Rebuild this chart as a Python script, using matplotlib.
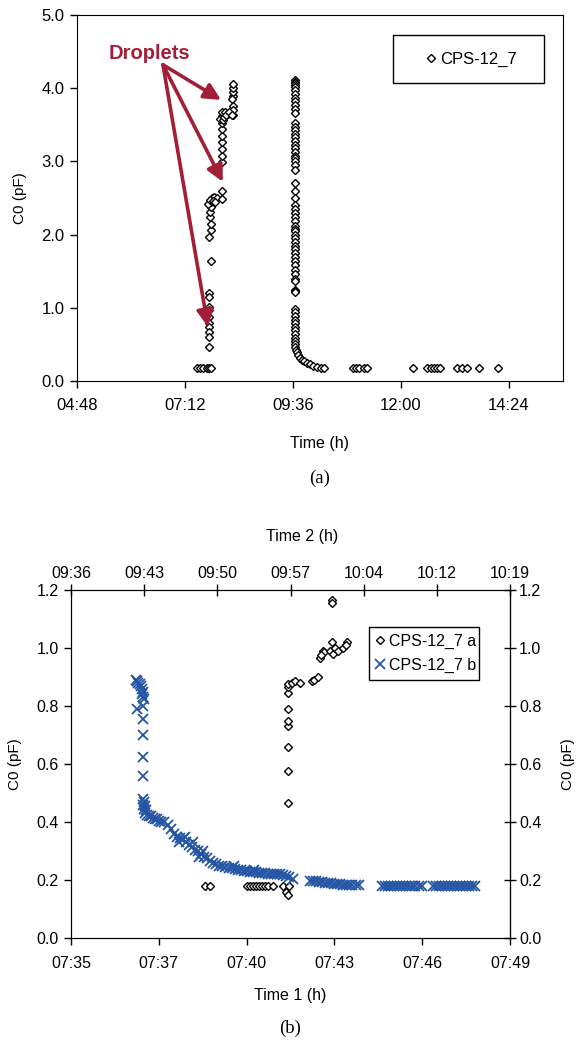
import numpy as np
import matplotlib
matplotlib.use("Agg")
import matplotlib.pyplot as plt
from matplotlib.patches import Rectangle
from matplotlib.ticker import FixedLocator, FuncFormatter

plt.rcParams['font.family'] = ['Liberation Sans', 'DejaVu Sans']
plt.rcParams['font.size'] = 11

# ---------------- data (time in minutes after midnight, C0 in pF) ----------------
# panel (a): first droplet events
drop_t = [448, 452, 456, 461, 464, 467,
          464, 464, 464, 464, 464, 464, 464, 464, 464, 464, 467,
          464, 466, 466, 465, 465, 466, 467, 468, 470, 474, 481, 481, 463, 465, 469, 472,
          481, 481, 481, 481, 481, 481, 481, 481, 481, 485, 489, 496, 496, 496, 496, 496,
          494, 496, 496, 479, 482, 484, 487, 491, 494]
drop_c = [0.18, 0.18, 0.18, 0.18, 0.18, 0.18,
          1.20, 1.15, 1.01, 0.97, 0.87, 0.79, 0.74, 0.67, 0.60, 0.46, 1.64,
          1.97, 2.06, 2.15, 2.24, 2.31, 2.38, 2.45, 2.50, 2.52, 2.50, 2.48, 2.60, 2.42, 2.47, 2.46, 2.44,
          2.99, 3.08, 3.17, 3.26, 3.35, 3.44, 3.53, 3.62, 3.67, 3.67, 3.65, 3.63, 3.90, 3.95, 4.00, 4.06,
          3.85, 3.76, 3.70, 3.58, 3.56, 3.60, 3.63, 3.68, 3.64]

# panel (a): second event (full wetting then decay)
wet_c = [4.11, 4.09, 4.07, 4.05, 4.02, 3.97, 3.92, 3.87, 3.82, 3.77, 3.72, 3.66,
         3.52, 3.47, 3.43, 3.38, 3.33, 3.28, 3.23, 3.18, 3.13, 3.08, 3.05, 3.00, 2.95, 2.88,
         2.70, 2.60, 2.50,
         2.40, 2.35, 2.30, 2.24, 2.18, 2.12, 2.08, 2.05, 2.00, 1.95, 1.90, 1.85, 1.80, 1.75,
         1.70, 1.64, 1.58, 1.52, 1.46, 1.40, 1.36, 1.25, 1.23, 1.21,
         0.99, 0.94, 0.89, 0.84, 0.79, 0.74, 0.69, 0.64, 0.59, 0.54, 0.50, 0.46]
wet_t = [579] * len(wet_c)
decay_t = [580, 581, 583, 585, 588, 591, 595, 599, 603, 608, 613, 617]
decay_c = [0.42, 0.39, 0.35, 0.32, 0.29, 0.27, 0.25, 0.23, 0.21, 0.19, 0.18, 0.18]
late_t = [656, 660, 664, 670, 675, 736, 755, 760, 764, 768, 772, 795, 801, 808, 824, 849]
late_c = [0.18] * len(late_t)

# panel (b): series a, against Time 1
a_t = [459.45, 459.6, 460.8, 460.9, 461.0, 461.1, 461.2, 461.3, 461.4, 461.5, 461.65,
       462.0, 462.1, 462.15, 462.2,
       462.16, 462.16, 462.16, 462.16, 462.16, 462.16, 462.16, 462.16, 462.16,
       462.3, 462.4, 462.55, 462.95, 463.0, 463.15, 463.2, 463.3, 463.35, 463.25,
       463.6, 463.6, 463.6, 463.55, 463.65, 463.7, 463.8, 463.96, 464.1, 464.05]
a_c = [0.18, 0.18, 0.18, 0.18, 0.18, 0.18, 0.18, 0.18, 0.18, 0.18, 0.18,
       0.18, 0.16, 0.15, 0.18,
       0.466, 0.576, 0.66, 0.73, 0.75, 0.79, 0.845, 0.866, 0.875,
       0.88, 0.885, 0.88, 0.885, 0.89, 0.90, 0.965, 0.99, 0.985, 0.975,
       1.02, 1.165, 1.155, 0.99, 0.98, 1.00, 0.99, 1.00, 1.02, 1.01]

# panel (b): series b, against Time 2
b_t = [582.4, 582.5, 582.6, 582.8, 582.9, 583.0, 583.1, 583.0, 583.1, 583.2,
       582.5, 583.1, 583.1, 583.1, 583.1, 583.1,
       583.1, 583.2, 583.1, 583.3, 583.2, 583.4, 583.3, 583.5, 583.7, 583.9, 584.1, 584.3, 584.5, 584.7,
       584.9, 585.2, 585.5, 585.8, 586.1, 586.4, 586.7, 587.0, 587.3, 587.6, 587.9, 588.2,
       588.5, 588.8, 589.1, 589.4, 589.7, 590.0, 590.3, 590.6, 590.9, 591.2, 591.5, 591.8,
       592.1, 592.4, 592.7, 593.0, 593.3, 593.6, 593.9, 594.2, 594.5, 594.8, 595.1, 595.4,
       595.7, 596.0, 596.3, 596.6, 596.9, 597.2, 597.5, 597.8,
       586.6, 587.2, 588.0, 588.6, 589.0, 592.0, 594.0,
       599.5, 599.8, 600.1, 600.4, 600.7, 601.0, 601.3, 601.6, 601.9, 602.2, 602.5, 602.8,
       603.1, 603.4, 603.7, 604.0, 604.3,
       606.6, 606.9, 607.2, 607.5, 607.8, 608.1, 608.4, 608.7, 609.0, 609.3, 609.6, 609.9,
       610.2, 610.5,
       611.6, 611.9, 612.2, 612.5, 612.8, 613.1, 613.4, 613.7, 614.0, 614.3, 614.6, 614.9,
       615.2, 615.5, 615.8]
b_c = [0.89, 0.885, 0.88, 0.875, 0.87, 0.86, 0.85, 0.84, 0.83, 0.825,
       0.79, 0.80, 0.755, 0.70, 0.625, 0.56,
       0.48, 0.47, 0.46, 0.455, 0.445, 0.44, 0.43, 0.425, 0.42, 0.42, 0.415, 0.41, 0.41, 0.405,
       0.40, 0.40, 0.39, 0.375, 0.36, 0.35, 0.345, 0.34, 0.33, 0.32, 0.315, 0.305,
       0.30, 0.29, 0.28, 0.275, 0.265, 0.26, 0.255, 0.25, 0.248, 0.245, 0.242, 0.24,
       0.238, 0.236, 0.234, 0.232, 0.23, 0.228, 0.227, 0.226, 0.225, 0.224, 0.223, 0.222,
       0.222, 0.221, 0.22, 0.219, 0.217, 0.215, 0.21, 0.205,
       0.33, 0.35, 0.33, 0.28, 0.30, 0.25, 0.235,
       0.198, 0.197, 0.196, 0.194, 0.193, 0.191, 0.19, 0.188, 0.187, 0.186, 0.185, 0.184,
       0.183, 0.183, 0.182, 0.182, 0.182,
       0.18, 0.18, 0.18, 0.18, 0.18, 0.18, 0.18, 0.18, 0.18, 0.18, 0.18, 0.18,
       0.18, 0.18,
       0.18, 0.18, 0.18, 0.18, 0.18, 0.18, 0.18, 0.18, 0.18, 0.18, 0.18, 0.18,
       0.18, 0.18, 0.18]

# axis ticks as fractions of a day (Excel style)
top_ticks_day = [0.2, 0.3, 0.4, 0.5, 0.6]
t1_ticks_day = [0.316, 0.318, 0.320, 0.322, 0.324, 0.326]
t2_ticks_day = [0.400, 0.405, 0.410, 0.415, 0.420, 0.425, 0.430]

blue = '#2455A4'
red = '#A31F38'
W, H = 578, 1042


def hhmm(m, pos=None):
    s = int(round(m * 60))
    return f"{s // 3600:02d}:{(s // 60) % 60:02d}"


def fig_box(x0, y0, x1, y1):
    # pixel box (from top-left) -> figure-fraction rectangle
    return Rectangle((x0 / W, 1 - y1 / H), (x1 - x0) / W, (y1 - y0) / H,
                     transform=fig.transFigure, fill=False, ec='black', lw=1.0)


mk = dict(marker='D', ms=4.4, mfc='white', mec='black', mew=1.0, ls='none')

fig = plt.figure(figsize=(W / 100, H / 100), dpi=100)

# ---------------- panel (a) ----------------
ax = fig.add_axes([77 / W, 1 - 381 / H, 486 / W, 366 / H])
all_t = drop_t + wet_t + decay_t + late_t
all_c = drop_c + wet_c + decay_c + late_c
ax.plot(all_t, all_c, label='CPS-12_7', **mk)
ax.set_xlim(0.2 * 1440, 0.65 * 1440)
ax.set_ylim(0, 5)
ax.xaxis.set_major_locator(FixedLocator([d * 1440 for d in top_ticks_day]))
ax.xaxis.set_major_formatter(FuncFormatter(hhmm))
ax.set_yticks(np.arange(0, 5.01, 1.0))
ax.yaxis.set_major_formatter(FuncFormatter(lambda v, p: f"{v:.1f}"))
ax.tick_params(direction='out', length=5, width=1, labelsize=12, pad=4)
ax.tick_params(axis='x', pad=7)
ax.set_ylabel('C0 (pF)', fontsize=11, labelpad=10)
ax.set_xlabel('Time (h)', fontsize=11.5, labelpad=17)
leg = ax.legend(loc='center', bbox_to_anchor=(472 / W, 1 - 59 / H), bbox_transform=fig.transFigure,
                frameon=False, fontsize=12, handlelength=0.5, handletextpad=0.3, borderaxespad=0)
fig.add_artist(fig_box(393, 35, 544, 83))

# droplet annotation
src = (6.71 * 60, 4.32)
for tip in [(8.0 * 60, 3.84), (8.04 * 60, 2.72), (7.71 * 60, 0.74)]:
    ax.annotate('', xy=tip, xytext=src,
                arrowprops=dict(arrowstyle='-|>,head_length=0.9,head_width=0.45', lw=2.6,
                                color=red, shrinkA=0, shrinkB=0))
ax.text(6.42 * 60, 4.47, 'Droplets', color=red, fontsize=14.5, fontweight='bold', ha='center', va='center')

fig.text(320 / W, 1 - 478 / H, '(a)', family='Liberation Serif', fontsize=13.5, ha='center', va='center')

# ---------------- panel (b) ----------------
bx = fig.add_axes([71 / W, 1 - 938 / H, 439 / W, 348 / H])
bx.plot(a_t, a_c, label='CPS-12_7 a', zorder=3, **mk)
bx.set_xlim(t1_ticks_day[0] * 1440, t1_ticks_day[-1] * 1440)
bx.set_ylim(0, 1.2)
bx.xaxis.set_major_locator(FixedLocator([d * 1440 for d in t1_ticks_day]))
bx.xaxis.set_major_formatter(FuncFormatter(hhmm))
bx.set_yticks(np.arange(0, 1.21, 0.2))
bx.yaxis.set_major_formatter(FuncFormatter(lambda v, p: f"{v:.1f}"))
bx.tick_params(direction='out', length=5, width=1, labelsize=11.5, pad=4)
bx.tick_params(axis='x', pad=8)
bx.set_xlabel('Time 1 (h)', fontsize=11.5, labelpad=12)
bx.set_ylabel('C0 (pF)', fontsize=11, labelpad=10)

ry = bx.secondary_yaxis('right')
ry.set_yticks(np.arange(0, 1.21, 0.2))
ry.yaxis.set_major_formatter(FuncFormatter(lambda v, p: f"{v:.1f}"))
ry.tick_params(direction='inout', length=9, width=1, labelsize=11.5, pad=2)
ry.set_ylabel('C0 (pF)', fontsize=11, labelpad=14)

tx = bx.twiny()
tx.plot(b_t, b_c, marker='x', ms=6.5, mew=1.3, color=blue, ls='none', label='CPS-12_7 b')
tx.set_xlim(t2_ticks_day[0] * 1440, t2_ticks_day[-1] * 1440)
tx.xaxis.set_major_locator(FixedLocator([d * 1440 for d in t2_ticks_day]))
tx.xaxis.set_major_formatter(FuncFormatter(hhmm))
tx.tick_params(direction='inout', length=9, width=1, labelsize=11.5, pad=2)
fig.text(302 / W, 1 - 537 / H, 'Time 2 (h)', fontsize=11.5, ha='center', va='center')

h1, l1 = bx.get_legend_handles_labels()
h2, l2 = tx.get_legend_handles_labels()
leg2 = tx.legend(h1 + h2, l1 + l2, loc='center', bbox_to_anchor=(426 / W, 1 - 653 / H),
                 bbox_transform=fig.transFigure, frameon=False, fontsize=11.5,
                 handlelength=0.5, handletextpad=0.3, labelspacing=0.55, borderaxespad=0)
fig.add_artist(fig_box(369, 627, 479, 680))

fig.text(290 / W, 1 - 1028 / H, '(b)', family='Liberation Serif', fontsize=13.5, ha='center', va='center')

fig.savefig('out.png', dpi=100)
